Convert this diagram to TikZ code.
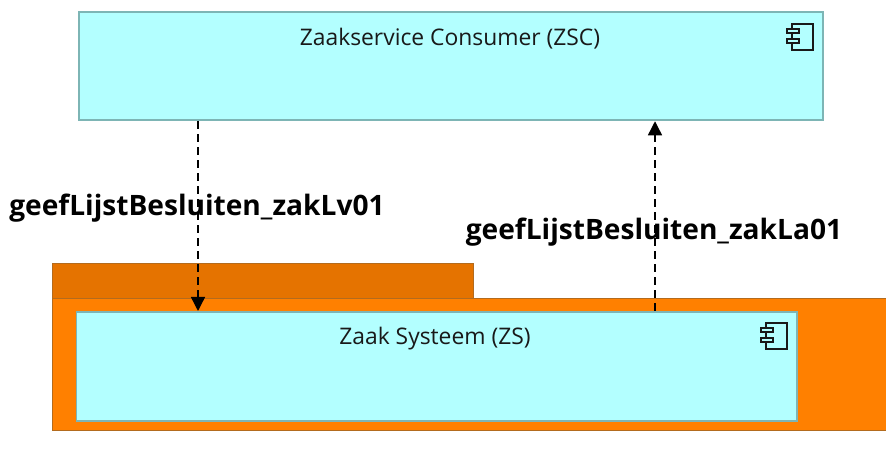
\documentclass[tikz,border=0pt]{standalone}
\usepackage{fontspec}
\usepackage{xcolor}
\setmainfont{Open Sans}
\usetikzlibrary{
    arrows.meta,
    positioning
}
\definecolor{compcyan}{HTML}{B3FFFF}
\definecolor{compedge}{HTML}{7DB5B5}
\definecolor{nodeorange}{HTML}{FF8000}
\definecolor{taborange}{HTML}{E57300}
\definecolor{nodeedge}{HTML}{B36B1E}
\tikzset{
    component/.style={draw=compedge, fill=compcyan, line width=0.5pt, anchor=north west, inner sep=0pt},
    bodybox/.style={draw=nodeedge, fill=nodeorange, line width=0.3pt, anchor=north west, inner sep=0pt},
    tabbox/.style={draw=nodeedge, fill=taborange, line width=0.3pt, anchor=north west, inner sep=0pt},
    flow/.style={draw=black, line width=0.4pt, dash pattern=on 2.2pt off 1.5pt, -{Triangle[width=4pt, length=4pt]}},
    complabel/.style={font=\fontsize{6.5}{7}\selectfont, text=black!90, inner sep=0pt},
    flowlabel/.style={font=\fontsize{8.0}{9}\selectfont\bfseries, text=black, inner sep=0pt}
}
\begin{document}
\begin{tikzpicture}
    \useasboundingbox (0, 0) rectangle (8.86, -4.57);
    % the node with its tab
    \node[tabbox, minimum width=4.21cm, minimum height=0.36cm] (tab) at (0.52, -2.63) {};
    \node[bodybox, minimum width=8.40cm, minimum height=1.32cm] (body) at (0.52, -2.98) {};
    % the two components
    \node[component, minimum width=7.44cm, minimum height=1.08cm] (zsc) at (0.78, -0.115) {};
    \node[component, minimum width=7.205cm, minimum height=1.09cm] (zs) at (0.755, -3.11) {};
    \node[complabel] (zsclabel) at (4.50, -0.39) {Zaakservice Consumer (ZSC)};
    \node[complabel] (zslabel) at (4.35, -3.39) {Zaak Systeem (ZS)};
    % component icons
    \foreach \x/\y in {7.92/-0.24, 7.66/-3.23} {
        \begin{scope}[shift={(\x, \y)}, line width=0.5pt, black!90]
            \draw (0, 0.00) -- (0.21, 0.00) -- (0.21, -0.26) -- (0, -0.26) -- cycle;
            \draw[fill=compcyan] (-0.05, -0.05) rectangle (0.07, -0.09);
            \draw[fill=compcyan] (-0.05, -0.15) rectangle (0.07, -0.19);
        \end{scope}
    }
    % the two flows
    \coordinate (lvx) at (1.98, 0);
    \coordinate (lax) at (6.55, 0);
    \draw[flow] (zsc.south -| lvx) -- (zs.north -| lvx);
    \draw[flow] (zs.north -| lax) -- (zsc.south -| lax);
    \node[flowlabel] (lvlabel) at (1.97, -2.08) {geefLijstBesluiten\_zakLv01};
    \node[flowlabel] (lalabel) at (6.54, -2.32) {geefLijstBesluiten\_zakLa01};
\end{tikzpicture}
\end{document}
